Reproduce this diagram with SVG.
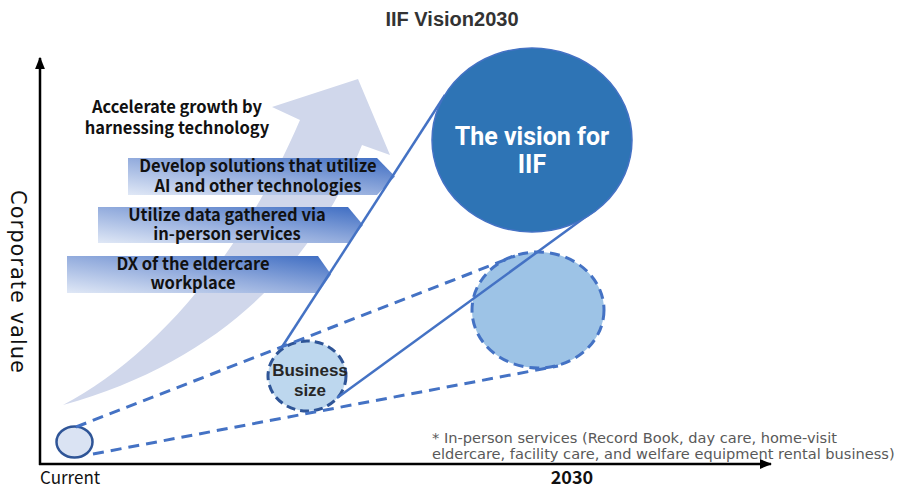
<svg xmlns="http://www.w3.org/2000/svg" width="897" height="488" viewBox="0 0 897 488">
  <defs>
    <linearGradient id="stepFill" x1="0" y1="1" x2="1" y2="0">
      <stop offset="0" stop-color="#e0e8f6"/>
      <stop offset="0.5" stop-color="#93acdd"/>
      <stop offset="1" stop-color="#3d6cc2"/>
    </linearGradient>
    <marker id="axisHead" viewBox="0 0 10 10" refX="9" refY="5" markerWidth="5" markerHeight="5" orient="auto">
      <path d="M0,1 L10,5 L0,9 z" fill="#000"/>
    </marker>
  </defs>
  <style>
    .axis { stroke: #000; stroke-width: 2.5; fill: none; }
    .step { fill: url(#stepFill); }
    .stepText { font-family: "Noto Sans CJK JP", "Noto Sans", sans-serif; font-weight: bold; font-size: 16.5px; fill: #111; text-anchor: middle; }
    .link { stroke: #4472c4; stroke-width: 2.5; fill: none; }
    .dash { stroke: #4472c4; stroke-width: 3; fill: none; stroke-dasharray: 11 7; }
    .axisLabel { font-family: "Noto Sans CJK JP", "Noto Sans", sans-serif; fill: #111; }
    .vertical { font-family: "DejaVu Sans", sans-serif; font-size: 21px; letter-spacing: 1px; fill: #111; text-anchor: middle; }
    .note { font-family: "DejaVu Sans", sans-serif; font-size: 14.6px; fill: #595959; }
    .bizText { font-family: "Liberation Sans", Arial, sans-serif; font-weight: bold; font-size: 17px; fill: #262626; text-anchor: middle; }
    .visionText { font-family: Roboto, sans-serif; font-weight: bold; font-size: 25px; fill: #fff; text-anchor: middle; }
  </style>

  <rect width="897" height="488" fill="#fff"/>

  <!-- title -->
  <text x="452" y="26" font-family="Liberation Sans, Arial, sans-serif" font-weight="bold" font-size="20" fill="#333" text-anchor="middle">IIF Vision2030</text>

  <!-- growth arrow in the background -->
  <path id="growth" d="M63,405 C150,360 240,260 300,120 L272,107 L358,79 L390,155 L362,145 C315,260 225,360 63,405 Z" fill="#d0d7eb"/>

  <!-- axes -->
  <g id="axes">
    <line class="axis" x1="40" y1="465" x2="40" y2="58" marker-end="url(#axisHead)"/>
    <line class="axis" x1="39" y1="464" x2="771" y2="464" marker-end="url(#axisHead)"/>
    <text class="vertical" transform="translate(11,282) rotate(90)">Corporate value</text>
    <text class="axisLabel" x="40" y="484" font-size="17">Current</text>
    <text class="axisLabel" x="572" y="484" font-size="18" font-weight="bold" text-anchor="middle">2030</text>
  </g>

  <!-- steps -->
  <g id="step-ai">
    <path class="step" d="M128,158 H377 L395,176.5 L377,195 H128 Z"/>
    <text class="stepText" x="258" y="172">Develop solutions that utilize</text>
    <text class="stepText" x="258" y="192">AI and other technologies</text>
  </g>
  <g id="step-data">
    <path class="step" d="M98,207 H348 L363,225 L348,243 H98 Z"/>
    <text class="stepText" x="227" y="221">Utilize data gathered via</text>
    <text class="stepText" x="227" y="240">in-person services</text>
  </g>
  <g id="step-dx">
    <path class="step" d="M67,256 H318 L331,274.5 L318,293 H67 Z"/>
    <text class="stepText" x="193" y="270">DX of the eldercare</text>
    <text class="stepText" x="193" y="289">workplace</text>
  </g>
  <g id="accelerate">
    <text class="stepText" x="177" y="113" font-size="17.5">Accelerate growth by</text>
    <text class="stepText" x="177" y="134" font-size="17.5">harnessing technology</text>
  </g>

  <!-- future business size -->
  <g id="future-size">
    <ellipse cx="538" cy="310" rx="66" ry="58" fill="#9dc3e6" stroke="#4472c4" stroke-width="3" stroke-dasharray="10 6"/>
  </g>

  <!-- business size now -->
  <g id="business-size">
    <ellipse cx="307" cy="376" rx="39" ry="35" fill="#bdd7ee" stroke="#2f5597" stroke-width="3" stroke-dasharray="9 5"/>
    <text class="bizText" x="310" y="376">Business</text>
    <text class="bizText" x="310" y="396">size</text>
  </g>

  <!-- current -->
  <g id="current">
    <ellipse cx="74.5" cy="442" rx="18" ry="15.5" fill="#dae3f3" stroke="#2f5597" stroke-width="2.5"/>
  </g>

  <!-- connectors -->
  <g id="connectors">
    <line class="dash" x1="76" y1="427" x2="515" y2="256"/>
    <line class="dash" x1="93" y1="454" x2="558" y2="366"/>
    <line class="link" x1="282" y1="347" x2="445" y2="95"/>
    <line class="link" x1="337" y1="398" x2="595" y2="210"/>
  </g>

  <!-- vision -->
  <g id="vision">
    <ellipse cx="532" cy="140" rx="100" ry="92" fill="#2e74b5" stroke="#4472c4" stroke-width="1.5"/>
    <text class="visionText" x="532" y="145">The vision for</text>
    <text class="visionText" x="532" y="173">IIF</text>
  </g>

  <!-- note -->
  <g id="note">
    <text class="note" x="432" y="443">* In-person services (Record Book, day care, home-visit</text>
    <text class="note" x="432" y="459">eldercare, facility care, and welfare equipment rental business)</text>
  </g>
</svg>
